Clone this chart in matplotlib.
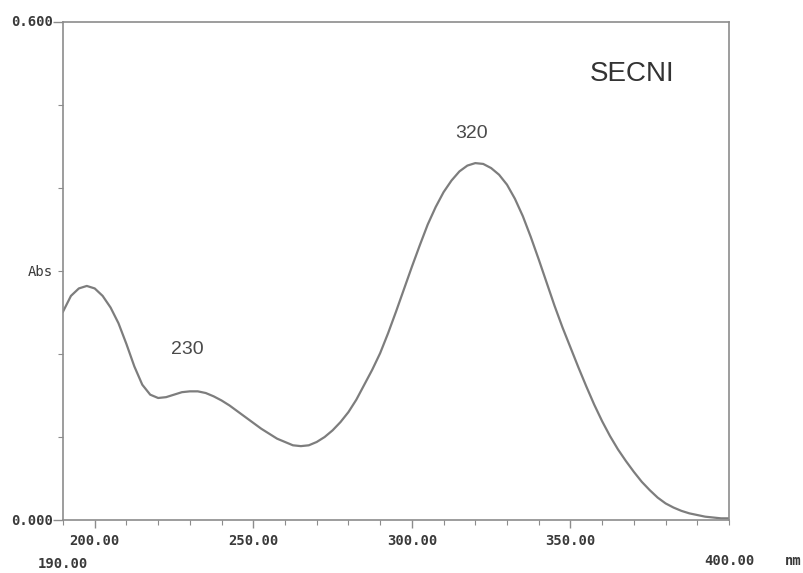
import numpy as np
import matplotlib
matplotlib.use("Agg")
import matplotlib.pyplot as plt
import matplotlib.transforms as mtransforms

# spectrum every 2.5 nm (nm, Abs)
wavelength = list(np.arange(190, 400.1, 2.5))
absorbance = [0.251, 0.270, 0.279, 0.282, 0.279, 0.270, 0.256, 0.237, 0.212, 0.185,
              0.163, 0.151, 0.147, 0.148, 0.151, 0.154, 0.155, 0.155, 0.153, 0.149,
              0.144, 0.138, 0.131, 0.124, 0.117, 0.110, 0.104, 0.098, 0.094, 0.090,
              0.089, 0.090, 0.094, 0.100, 0.108, 0.118, 0.130, 0.145, 0.163, 0.181,
              0.201, 0.225, 0.251, 0.278, 0.305, 0.331, 0.356, 0.377, 0.395, 0.409,
              0.420, 0.427, 0.430, 0.429, 0.424, 0.416, 0.404, 0.387, 0.366, 0.341,
              0.314, 0.286, 0.258, 0.232, 0.208, 0.184, 0.161, 0.139, 0.119, 0.101,
              0.085, 0.071, 0.058, 0.046, 0.036, 0.027, 0.020, 0.015, 0.011, 0.008,
              0.006, 0.004, 0.003, 0.002, 0.002]

x_major = [200, 250, 300, 350]
x_labels = ["200.00", "250.00", "300.00", "350.00"]
peak_text = ["230", "320"]
peak_pos = [(187, 350), (472, 133)]   # pixel centres of the peak notes

fig = plt.figure(figsize=(8.04, 5.73), dpi=100)
ax = fig.add_axes([63 / 804, 1 - 520 / 573, 666 / 804, 498 / 573])

ax.plot(wavelength, absorbance, color="#7d7d7d", lw=1.6)
ax.set_xlim(190, 400)
ax.set_ylim(0, 0.6)

for s in ax.spines.values():
    s.set_color("#8c8c8c")
    s.set_linewidth(1.2)

ax.set_xticks(x_major)
ax.set_xticks(np.arange(190, 401, 10), minor=True)
ax.set_yticks([0, 0.6])
ax.set_yticks(np.arange(0.1, 0.6, 0.1), minor=True)
ax.tick_params(axis="x", which="major", direction="out", length=6, width=1, color="#8c8c8c")
ax.tick_params(axis="x", which="minor", direction="out", length=3.5, width=0.8, color="#8c8c8c")
ax.tick_params(axis="y", which="major", direction="out", length=7, width=1, color="#8c8c8c")
ax.tick_params(axis="y", which="minor", direction="out", length=3.5, width=0.8, color="#8c8c8c")
ax.set_xticklabels([])
ax.set_yticklabels([])

mono = dict(family="DejaVu Sans Mono", fontweight="bold", fontsize=10, color="#3a3a3a")
trans = mtransforms.blended_transform_factory(ax.transData, fig.transFigure)
for x, lab in zip(x_major, x_labels):
    ax.text(x, 1 - 541 / 573, lab, transform=trans, ha="center", va="center", **mono)
ax.text(190, 1 - 564 / 573, "190.00", transform=trans, ha="center", va="center", **mono)
ax.text(400, 1 - 561 / 573, "400.00", transform=trans, ha="center", va="center", **mono)
fig.text(793 / 804, 1 - 561 / 573, "nm", ha="center", va="center", **mono)

fig.text(53 / 804, 1 - 22 / 573, "0.600", ha="right", va="center", **mono)
fig.text(53 / 804, 1 - 521 / 573, "0.000", ha="right", va="center", **mono)
fig.text(53 / 804, 1 - 272 / 573, "Abs", ha="right", va="center",
         family="DejaVu Sans Mono", fontsize=10, color="#3a3a3a")

fig.text(632 / 804, 1 - 74 / 573, "SECNI", ha="center", va="center",
         family="Liberation Sans", fontsize=20, color="#333333")
for lab, (px, py) in zip(peak_text, peak_pos):
    fig.text(px / 804, 1 - py / 573, lab, ha="center", va="center",
             family="Liberation Sans", fontsize=14, color="#4a4a4a")

fig.savefig("out.png", dpi=100)
